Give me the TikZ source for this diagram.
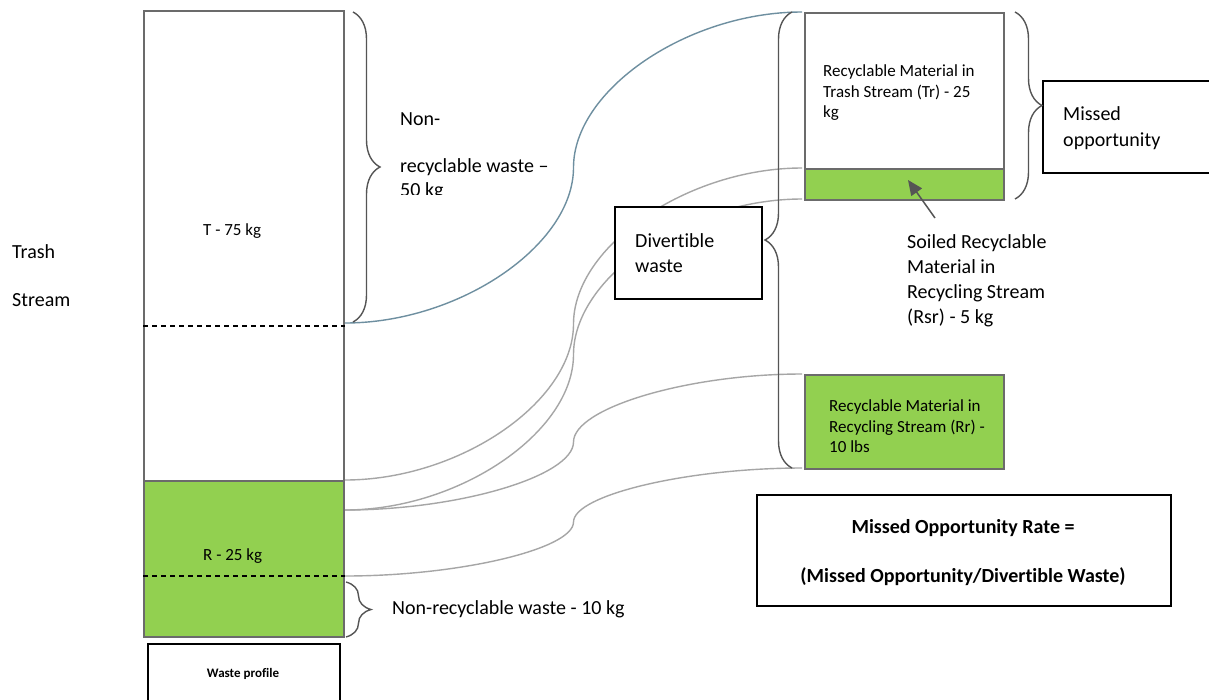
\documentclass[tikz,border=0pt]{standalone}
\usepackage{fontspec}
\setmainfont{Carlito}[Ligatures={NoCommon}]
\usetikzlibrary{decorations.pathreplacing,arrows.meta,calc}
\definecolor{grn}{HTML}{92D050}
\definecolor{edgec}{HTML}{6B6B6B}
\definecolor{connc}{HTML}{A6A6A6}
\definecolor{bluec}{HTML}{6E8FA0}
\definecolor{brc}{HTML}{555555}
\begin{document}
\begin{tikzpicture}[x=1pt,y=-1pt,
  big/.style={font=\fontsize{20}{24}\selectfont, inner sep=0pt, anchor=base west},
  small/.style={font=\fontsize{17}{20}\selectfont, inner sep=0pt, anchor=base west},
  boldtxt/.style={font=\fontsize{20}{24}\selectfont\bfseries, inner sep=0pt, anchor=base},
  colbox/.style={draw=edgec, line width=2pt, anchor=north west, inner sep=0pt},
  blackbox/.style={draw=black, line width=1.8pt, fill=white, anchor=north west, inner sep=0pt},
  sconn/.style={line width=1.4pt, to path={let \p1=(\tikztostart), \p2=(\tikztotarget) in
     .. controls ({\x1+0.25*(\x2-\x1)},\y1) and ({0.5*(\x1+\x2)},{\y1+0.25*(\y2-\y1)}) .. ({0.5*(\x1+\x2)},{0.5*(\y1+\y2)})
     .. controls ({0.5*(\x1+\x2)},{\y1+0.75*(\y2-\y1)}) and ({\x1+0.75*(\x2-\x1)},\y2) .. (\tikztotarget)}},
  bracestyle/.style={draw=brc, line width=1.4pt, decorate, decoration={brace, amplitude=#1}},
  dashline/.style={draw=black, line width=1.8pt, dash pattern=on 5pt off 4pt},
]
\fill[white] (0,0) rectangle (1209,699);
\useasboundingbox (0,0) rectangle (1209,699);

% main column
\node (T) [colbox, fill=white, minimum width=200pt, minimum height=470pt] at (143,10) {};
\node (R) [colbox, fill=grn, minimum width=200pt, minimum height=156pt] at (143,480) {};
\coordinate (tdash) at (345,326);
\coordinate (rdash) at (345,576);
\draw[dashline] (T.west |- tdash) -- (tdash);
\draw[dashline] (R.west |- rdash) -- (rdash);

% right column
\node (Tr) [colbox, fill=white, minimum width=199pt, minimum height=156pt] at (804,12) {};
\node (Trg) [colbox, fill=grn, minimum width=199pt, minimum height=31pt] at (804,168) {};
\node (Rr) [colbox, fill=grn, minimum width=199pt, minimum height=94pt] at (804,374) {};

% connector end points
\coordinate (s0) at (345,323);
\coordinate (s1) at (345,480);
\coordinate (s2) at (345,510);
\coordinate (s3) at (345,576);
\coordinate (e0) at (802,12);
\coordinate (e1) at (802,168);
\coordinate (e2) at (802,199);
\coordinate (e3) at (802,374);
\coordinate (e4) at (802,468);

\draw[sconn, draw=bluec] (s0) to (e0);
\draw[sconn, draw=connc] (s1) to (e1);
\draw[sconn, draw=connc] (s2) to (e2);
\draw[sconn, draw=connc] (s2) to (e3);
\draw[sconn, draw=connc] (s3) to (e4);

% boxes
\node (div) [blackbox, minimum width=147pt, minimum height=92pt] at (614,206) {};
\node (mo) [blackbox, minimum width=200pt, minimum height=92pt] at (1042,80) {};
\node (wp) [blackbox, minimum width=192pt, minimum height=80pt] at (147,643) {};
\node (fm) [blackbox, minimum width=414pt, minimum height=111pt] at (756,494) {};

% braces
\draw[bracestyle=27pt] (353,12) -- (353,322);
\draw[bracestyle=25pt] (346,582) -- (346,637);
\draw[bracestyle=27pt] (1015,12) -- (1015,199);
\draw[bracestyle=27pt] (792,468) -- (792,12);

% arrow
\coordinate (atail) at (935,218);
\coordinate (ahead) at (908,180);
\draw[draw=brc, line width=1.5pt, -{Triangle[length=15pt,width=13pt]}] (atail) -- (ahead);

% texts
\node (trash) [big] at (12,258) {Trash};
\node (stream) [big] at (12,306) {Stream};
\node (tlab) [small] at (203,235) {T - 75 kg};
\node (rlab) [small] at (203,560) {R - 25 kg};
\node (nr1) [big] at (400,125) {Non-};
\node (nr2) [big] at (400,172) {recyclable waste –};
\begin{scope}
\clip (390,150) rectangle (640,194);
\node (nr3) [big] at (400,196) {50 kg};
\end{scope}
\node (nr10) [big] at (392,614) {Non-recyclable waste - 10 kg};
\node (wptxt) [font=\fontsize{13}{15}\selectfont\bfseries, inner sep=0pt, anchor=base] at (243,677) {Waste profile};
\node (dv1) [big] at (635,247) {Divertible};
\node (dv2) [big] at (635,272) {waste};
\node (mo1) [big] at (1063,120) {Missed};
\node (mo2) [big] at (1063,146) {opportunity};
\node (tr1) [small] at (823,76) {Recyclable Material in};
\node (tr2) [small] at (823,97) {Trash Stream (Tr) - 25};
\node (tr3) [small] at (823,117) {kg};
\node (so1) [big] at (907,248) {Soiled Recyclable};
\node (so2) [big] at (907,273) {Material in};
\node (so3) [big] at (907,298) {Recycling Stream};
\node (so4) [big] at (907,323) {(Rsr) - 5 kg};
\node (rr1) [small] at (829,411) {Recyclable Material in};
\node (rr2) [small] at (829,432) {Recycling Stream (Rr) -};
\node (rr3) [small] at (829,452) {10 lbs};
\node (fm1) [boldtxt] at (963,533) {Missed Opportunity Rate =};
\node (fm2) [boldtxt] at (963,582) {(Missed Opportunity/Divertible Waste)};
\end{tikzpicture}
\end{document}
